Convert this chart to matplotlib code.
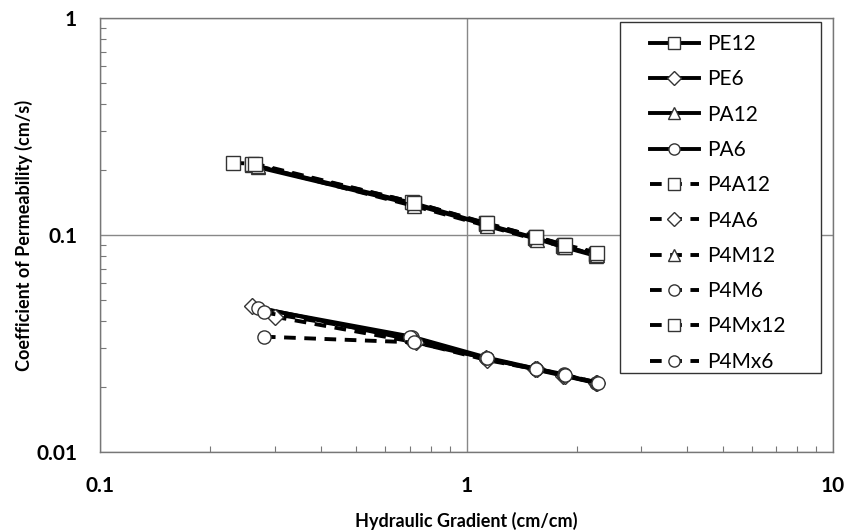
import matplotlib
matplotlib.use("Agg")
import matplotlib.pyplot as plt
from matplotlib.patches import Rectangle
from matplotlib.ticker import LogLocator, NullFormatter, FixedLocator, FixedFormatter

plt.rcParams['font.family'] = ['Lato', 'DejaVu Sans']

names = ["PE12", "PE6", "PA12", "PA6", "P4A12", "P4A6", "P4M12", "P4M6", "P4Mx12", "P4Mx6"]
markers = ["s", "D", "^", "o", "s", "D", "^", "o", "s", "o"]
dashed = [False, False, False, False, True, True, True, True, True, True]

x_PE12 = [0.26, 0.72, 1.13, 1.54, 1.83, 2.25]
y_PE12 = [0.210, 0.140, 0.112, 0.097, 0.089, 0.081]
x_PE6 = [0.26, 0.70, 1.13, 1.54, 1.83, 2.25]
y_PE6 = [0.047, 0.033, 0.027, 0.024, 0.0225, 0.0208]
x_PA12 = [0.27, 0.72, 1.14, 1.55, 1.84, 2.26]
y_PA12 = [0.205, 0.138, 0.111, 0.096, 0.088, 0.080]
x_PA6 = [0.27, 0.71, 1.14, 1.55, 1.85, 2.26]
y_PA6 = [0.046, 0.034, 0.0272, 0.0242, 0.0228, 0.0207]
x_P4A12 = [0.26, 0.71, 1.13, 1.55, 1.84, 2.26]
y_P4A12 = [0.212, 0.142, 0.113, 0.098, 0.090, 0.082]
x_P4A6 = [0.30, 0.73, 1.14, 1.56, 1.86, 2.27]
y_P4A6 = [0.042, 0.032, 0.0265, 0.0240, 0.0225, 0.0207]
x_P4M12 = [0.27, 0.72, 1.14, 1.56, 1.86, 2.27]
y_P4M12 = [0.208, 0.136, 0.110, 0.095, 0.088, 0.081]
x_P4M6 = [0.28, 0.70, 1.13, 1.55, 1.85, 2.27]
y_P4M6 = [0.044, 0.034, 0.0270, 0.0242, 0.0227, 0.0209]
x_P4Mx12 = [0.23, 0.265, 0.72, 1.14, 1.55, 1.86, 2.27]
y_P4Mx12 = [0.215, 0.213, 0.141, 0.113, 0.098, 0.090, 0.083]
x_P4Mx6 = [0.28, 0.72, 1.14, 1.55, 1.86, 2.28]
y_P4Mx6 = [0.034, 0.032, 0.027, 0.024, 0.0226, 0.0209]

xs = [x_PE12, x_PE6, x_PA12, x_PA6, x_P4A12, x_P4A6, x_P4M12, x_P4M6, x_P4Mx12, x_P4Mx6]
ys = [y_PE12, y_PE6, y_PA12, y_PA6, y_P4A12, y_P4A6, y_P4M12, y_P4M6, y_P4Mx12, y_P4Mx6]

W, H = 863, 530
fig = plt.figure(figsize=(W / 100, H / 100), dpi=100)
ax = fig.add_axes([100 / W, 1 - 452 / H, 733 / W, 434 / H])

for n, m, d, x, y in zip(names, markers, dashed, xs, ys):
    ax.plot(x, y, color='black', lw=2.8, linestyle=(0, (3.0, 2.2)) if d else '-',
            marker=m, markersize=9.5 if m != 'D' else 8, markerfacecolor='white',
            markeredgecolor='#333333', markeredgewidth=1.0, label=n)

ax.set_xscale('log')
ax.set_yscale('log')
ax.set_xlim(0.1, 10)
ax.set_ylim(0.01, 1)

ax.xaxis.set_major_locator(FixedLocator([0.1, 1, 10]))
ax.xaxis.set_major_formatter(FixedFormatter(['0.1', '1', '10']))
ax.yaxis.set_major_locator(FixedLocator([0.01, 0.1, 1]))
ax.yaxis.set_major_formatter(FixedFormatter(['0.01', '0.1', '1']))
ax.xaxis.set_minor_locator(LogLocator(base=10, subs=range(2, 10)))
ax.yaxis.set_minor_locator(LogLocator(base=10, subs=range(2, 10)))
ax.xaxis.set_minor_formatter(NullFormatter())
ax.yaxis.set_minor_formatter(NullFormatter())
ax.tick_params(which='major', length=0)
ax.tick_params(axis='x', which='major', pad=17)
ax.tick_params(axis='y', which='major', pad=16.5)
ax.tick_params(which='minor', direction='in', length=4, width=0.8, color='#777777')
for lab in ax.get_xticklabels() + ax.get_yticklabels():
    lab.set_fontweight('bold')
    lab.set_fontsize(15)

ax.grid(True, which='major', color='#888888', lw=1.0)
for s in ax.spines.values():
    s.set_color('#777777')
    s.set_linewidth(1.0)

ax.set_xlabel('Hydraulic Gradient (cm/cm)', fontsize=13, fontweight='bold')
ax.set_ylabel('Coefficient of Permeability (cm/s)', fontsize=13, fontweight='bold')
ax.xaxis.set_label_coords(0.5, -0.138)
ax.yaxis.set_label_coords(-0.092, 0.5)

# legend frame (Excel-style box with wide padding)
frame = Rectangle((620 / W, 1 - 373 / H), 201 / W, 351 / H, transform=fig.transFigure,
                  facecolor='white', edgecolor='#333333', lw=1.0, zorder=4)
ax.add_patch(frame)
frame.set_clip_on(False)

leg = ax.legend(loc='upper left', bbox_to_anchor=(650 / W, 1 - 34 / H),
                bbox_transform=fig.transFigure, fontsize=15, frameon=False,
                handlelength=2.35, labelspacing=0.735, borderpad=0, handletextpad=0.4,
                borderaxespad=0, markerscale=0.85)
leg.set_zorder(6)

fig.savefig('out.png', dpi=100, facecolor='white')
